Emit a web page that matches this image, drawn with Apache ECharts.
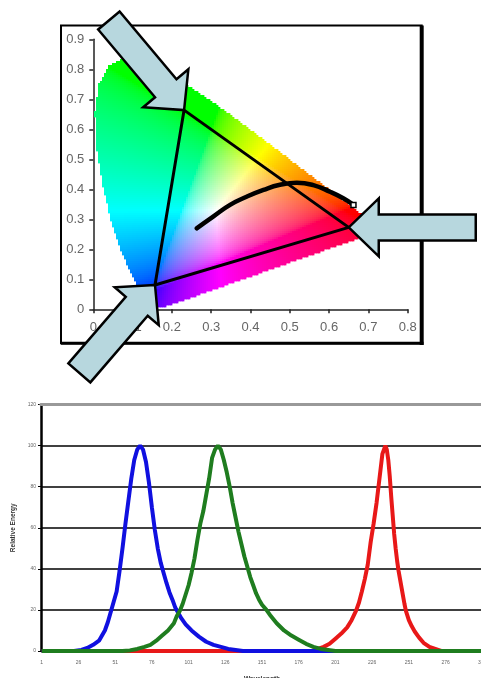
<!DOCTYPE html>
<html><head><meta charset="utf-8">
<script src="https://cdn.jsdelivr.net/npm/echarts@6/dist/echarts.min.js"></script>
<style>html,body{margin:0;padding:0;background:#fff;overflow:hidden;}#c{width:481px;height:678px;}</style>
</head><body><div id="c"></div>
<script>
// ---------- Top chart: CIE 1931 chromaticity ----------
const locusX = [0.1741,0.1738,0.1733,0.1726,0.1714,0.1703,0.1689,0.1669,0.1644,0.1611,0.1566,0.1510,0.1440,0.1355,0.1241,0.1096,0.0913,0.0687,0.0454,0.0235,0.0082,0.0039,0.0139,0.0389,0.0743,0.1142,0.1547,0.1929,0.2296,0.2658,0.3016,0.3373,0.3731,0.4087,0.4441,0.4788,0.5125,0.5448,0.5752,0.6029,0.6270,0.6482,0.6658,0.6801,0.6915,0.7006,0.7079,0.7140,0.7190,0.7230,0.7260,0.7300,0.7320,0.7347];
const locusY = [0.0050,0.0049,0.0048,0.0048,0.0051,0.0058,0.0069,0.0086,0.0109,0.0138,0.0177,0.0227,0.0297,0.0399,0.0578,0.0868,0.1327,0.2007,0.2950,0.4127,0.5384,0.6548,0.7502,0.8120,0.8338,0.8262,0.8059,0.7816,0.7543,0.7243,0.6923,0.6589,0.6245,0.5896,0.5547,0.5202,0.4866,0.4544,0.4242,0.3965,0.3725,0.3514,0.3340,0.3197,0.3083,0.2993,0.2920,0.2859,0.2809,0.2770,0.2740,0.2700,0.2680,0.2653];
const gamutX = [0.231, 0.650, 0.157];   // G, R, B primaries
const gamutY = [0.664, 0.273, 0.081];
const planckX = [0.263,0.305,0.348,0.390,0.433,0.475,0.518,0.560,0.602,0.636,0.662];
const planckY = [0.270,0.309,0.348,0.375,0.398,0.415,0.422,0.414,0.392,0.370,0.348];

// ---------- Bottom chart: spectral power ----------
const categories = Array.from({length: 301}, (_, i) => String(i + 1));
const blueIdx = [0,22,27,31,35,39,43,45,47,49,51,53,55,57,59,61,63,65,67,69,71,73,75,77,79,81,83,85,87,89,91,93,95,98,102,107,112,117,122,127,132,137,300];
const blueVal = [0,0,0.5,1.5,3,5,10,14,19,24,29,39,50,62,73,84,93,98,100,98,92,82,70,59,50,43,38,33,28.5,25,21,18.5,16,13,10,7,4.5,3,2,1,0.5,0,0];
const greenIdx = [0,55,60,65,70,74,78,82,86,90,92,94,96,98,100,102,104,106,108,110,112,114,116,118,120,122,124,126,128,130,132,134,136,138,140,142,144,146,148,150,153,156,160,165,170,175,180,185,190,195,200,300];
const greenVal = [0,0,0.3,1,2,3,5,7.5,10,13.5,17,19.5,23,27.5,32,38,45,54,62,68,76,84,94,98,100,98,93,87,80,72,65,58,52,46,41,36,32,28,25,22.5,20,17,13.5,10,7.5,5.5,3.5,2,1,0.5,0,0];
const redIdx = [0,184,188,192,196,200,204,208,211,214,216,218,220,222,224,226,228,230,232,234,235,236,237,238,239,240,241,242,243,244,246,247,248,250,252,254,257,260,264,268,272,300];
const redVal = [0,0,1,2,3.5,6,8.5,11.5,15,19.5,23.5,29,35,42,53,62,72,84,96,100,98,93,85,75,66,57,50,44,39,35,27,23,19.5,15,12,9.5,6.5,4,2,1,0,0];

function pairs(xs, ys) { return xs.map((x, i) => [x, ys[i]]); }

function inPoly(x, y, px, py) {
  let inside = false;
  for (let i = 0, j = px.length - 1; i < px.length; j = i++) {
    if (((py[i] > y) !== (py[j] > y)) && (x < (px[j] - px[i]) * (y - py[i]) / (py[j] - py[i]) + px[i])) inside = !inside;
  }
  return inside;
}
function gam(c) { return c <= 0.0031308 ? 12.92 * c : 1.055 * Math.pow(c, 1 / 2.4) - 0.055; }
function chromaColor(x, y) {
  const X = x / y, Z = (1 - x - y) / y;
  let r = Math.max(0, 3.2406 * X - 1.5372 - 0.4986 * Z);
  let g = Math.max(0, -0.9689 * X + 1.8758 + 0.0415 * Z);
  let b = Math.max(0, 0.0557 * X - 0.2040 + 1.0570 * Z);
  const m = Math.max(r, g, b) || 1;
  r = Math.round(255 * gam(r / m)); g = Math.round(255 * gam(g / m)); b = Math.round(255 * gam(b / m));
  return 'rgb(' + r + ',' + g + ',' + b + ')';
}

const arrowShapes = [
  {angle: 50, len: 117, shaft: 28, head: 59, headLen: 28.5},
  {angle: 180, len: 127, shaft: 26, head: 58, headLen: 30},
  {angle: -49.3, len: 116, shaft: 29, head: 58, headLen: 28}
];

const chart = echarts.init(document.getElementById('c'), null, {renderer: 'canvas'});
const font = 'Liberation Sans, Arial, sans-serif';
const fmt = v => (Math.abs(v) < 1e-9 ? '0' : v.toFixed(1));

chart.setOption({
  animation: false,
  backgroundColor: '#fff',
  grid: [
    {left: 93.3, top: 39.3, right: 73.3, bottom: 368.7, outerBoundsMode: 'none', containLabel: false},
    {left: 41, top: 404.5, right: -2, bottom: 27, outerBoundsMode: 'none', containLabel: false}
  ],
  graphic: [
    {type: 'rect', z: 1, shape: {x: 61, y: 25.5, width: 360.7, height: 317.8}, style: {fill: 'none', stroke: '#000', lineWidth: 2}},
    {type: 'line', z: 1, shape: {x1: 421.7, y1: 25.5, x2: 421.7, y2: 345}, style: {stroke: '#000', lineWidth: 4}},
    {type: 'line', z: 1, shape: {x1: 61, y1: 343.3, x2: 423.5, y2: 343.3}, style: {stroke: '#000', lineWidth: 3}}
  ],
  xAxis: [
    {gridIndex: 0, type: 'value', min: 0, max: 0.8, interval: 0.1,
     axisLine: {lineStyle: {color: '#222', width: 1.5}},
     axisTick: {length: 4, lineStyle: {color: '#222', width: 1.5}},
     splitLine: {show: false},
     axisLabel: {formatter: fmt, fontSize: 13, color: '#666', fontFamily: font, margin: 12}},
    {gridIndex: 1, type: 'category', data: categories, boundaryGap: true,
     axisLine: {lineStyle: {color: '#000', width: 1.5}},
     axisTick: {interval: 2, length: 2.5, lineStyle: {color: '#000', width: 1}},
     axisLabel: {interval: 24, fontSize: 5, color: '#666', fontFamily: font, margin: 9},
     name: 'Wavelength', nameLocation: 'middle', nameGap: 25,
     nameTextStyle: {fontSize: 6.5, fontWeight: 'bold', color: '#333', fontFamily: font}},
    {gridIndex: 1, type: 'value', position: 'top', min: 0, max: 1, z: 5,
     axisLine: {show: true, lineStyle: {color: '#999', width: 3}},
     axisTick: {show: false}, axisLabel: {show: false}, splitLine: {show: false}}
  ],
  yAxis: [
    {gridIndex: 0, type: 'value', min: 0, max: 0.9, interval: 0.1,
     axisLine: {show: true, lineStyle: {color: '#222', width: 1.5}},
     axisTick: {show: true, length: 4, lineStyle: {color: '#222', width: 1.5}},
     splitLine: {show: false},
     axisLabel: {formatter: fmt, fontSize: 13, color: '#666', fontFamily: font, margin: 9}},
    {gridIndex: 1, type: 'value', min: 0, max: 120, interval: 20,
     axisLine: {show: true, lineStyle: {color: '#000', width: 2.5}},
     axisTick: {show: true, length: 3, lineStyle: {color: '#000'}},
     splitLine: {show: true, lineStyle: {color: '#000', width: 1.5}},
     axisLabel: {fontSize: 5, color: '#666', fontFamily: font, margin: 5},
     name: 'Relative Energy', nameLocation: 'middle', nameGap: 17,
     nameTextStyle: {fontSize: 6.5, fontWeight: 'bold', color: '#333', fontFamily: font}}
  ],
  series: [
    {type: 'custom', xAxisIndex: 0, yAxisIndex: 0, z: 2, silent: true,
     data: [[0.33, 0.33]],
     renderItem: function (params, api) {
       const p0 = api.coord([0, 0]), p1 = api.coord([1, 1]);
       const sx = p1[0] - p0[0], sy = p1[1] - p0[1];
       const xMin = Math.min(...locusX), xMax = Math.max(...locusX);
       const yMin = Math.min(...locusY), yMax = Math.max(...locusY);
       const pxA = p0[0] + xMin * sx, pxB = p0[0] + xMax * sx;
       const pyA = p0[1] + yMax * sy, pyB = p0[1] + yMin * sy;
       const step = 2, children = [];
       for (let py = Math.floor(pyA); py <= pyB; py += step) {
         for (let px = Math.floor(pxA); px <= pxB; px += step) {
           const x = (px + step / 2 - p0[0]) / sx, y = (py + step / 2 - p0[1]) / sy;
           if (!inPoly(x, y, locusX, locusY)) continue;
           children.push({type: 'rect', silent: true, shape: {x: px, y: py, width: step + 0.4, height: step + 0.4}, style: {fill: chromaColor(x, y)}});
         }
       }
       return {type: 'group', children: children};
     }},
    {type: 'line', xAxisIndex: 0, yAxisIndex: 0, z: 3, symbol: 'none',
     data: pairs(gamutX.concat([gamutX[0]]), gamutY.concat([gamutY[0]])),
     lineStyle: {color: '#000', width: 3}},
    {type: 'line', xAxisIndex: 0, yAxisIndex: 0, z: 4, smooth: true, symbol: 'none', showSymbol: true,
     data: pairs(planckX, planckY).map((p, i, a) => i === a.length - 1 ? {value: p, symbol: 'rect', symbolSize: 5, itemStyle: {color: '#fff', borderColor: '#000', borderWidth: 1.5}} : p),
     lineStyle: {color: '#000', width: 4.5, cap: 'round'}},
    {type: 'custom', xAxisIndex: 0, yAxisIndex: 0, z: 10, clip: false, silent: true,
     data: pairs(gamutX, gamutY),
     renderItem: function (params, api) {
       const tip = api.coord([api.value(0), api.value(1)]);
       const s = arrowShapes[params.dataIndex];
       const a = s.angle * Math.PI / 180, c = Math.cos(a), sn = Math.sin(a);
       const local = [[0, 0], [-s.headLen, -s.head / 2], [-s.headLen, -s.shaft / 2], [-s.len, -s.shaft / 2],
                      [-s.len, s.shaft / 2], [-s.headLen, s.shaft / 2], [-s.headLen, s.head / 2]];
       const pts = local.map(p => [tip[0] + p[0] * c - p[1] * sn, tip[1] + p[0] * sn + p[1] * c]);
       return {type: 'polygon', shape: {points: pts}, style: {fill: '#b7d7de', stroke: '#000', lineWidth: 2.5, lineJoin: 'miter'}};
     }},
    {type: 'line', xAxisIndex: 1, yAxisIndex: 1, symbol: 'none', data: pairs(redIdx, redVal), lineStyle: {color: '#e81818', width: 4}},
    {type: 'line', xAxisIndex: 1, yAxisIndex: 1, symbol: 'none', data: pairs(blueIdx, blueVal), lineStyle: {color: '#1010e0', width: 4}},
    {type: 'line', xAxisIndex: 1, yAxisIndex: 1, symbol: 'none', data: pairs(greenIdx, greenVal), lineStyle: {color: '#1f7d1f', width: 4}}
  ]
});
</script></body></html>
